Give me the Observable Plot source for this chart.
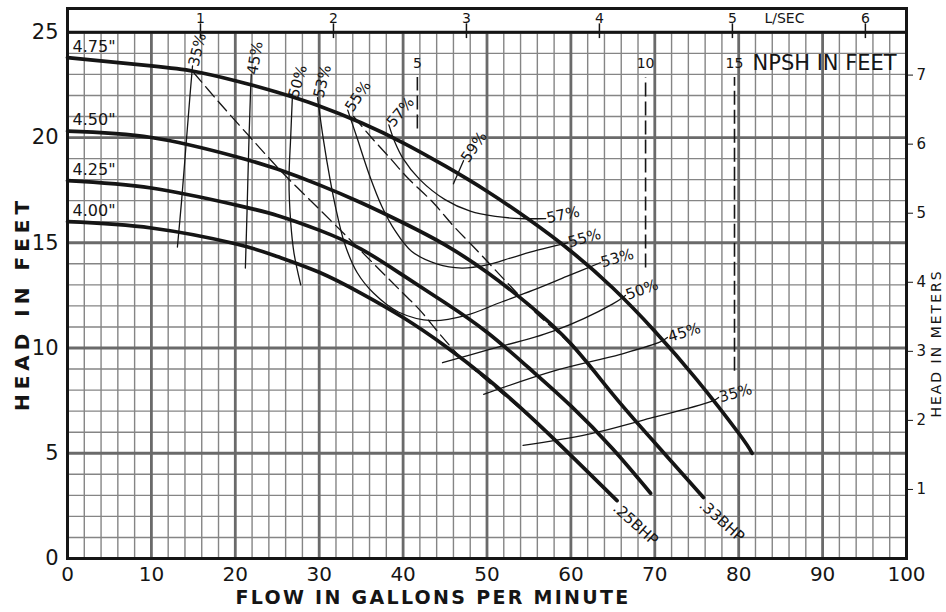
<!DOCTYPE html>
<html><head><meta charset="utf-8">
<script src="https://cdn.jsdelivr.net/npm/d3@7"></script>
<script src="https://cdn.jsdelivr.net/npm/@observablehq/plot@0.6"></script>
<style>body{margin:0;background:#fff;}</style>
</head><body><div id="chart"></div>
<script>
// ---- axis ticks ----
const flowTicks = [0,10,20,30,40,50,60,70,80,90,100];
const headTicks = [0,5,10,15,20,25];
const lsecTicks = [1,2,3,4,5,6];
const meterTicks = [1,2,3,4,5,6,7];
const GPM_PER_LSEC = 15.85;
const FT_PER_M = 3.2808;

// ---- head-capacity curves (flow gpm, head ft) ----
const diameters = ['4.75"', '4.50"', '4.25"', '4.00"'];
const imp475 = [[0,23.8],[10,23.4],[15,23.15],[20,22.7],[25,22.15],[30,21.5],[35,20.7],[40,19.75],[45,18.65],[50,17.45],[55,16.1],[60,14.6],[65,12.85],[70,10.8],[75,8.5],[80,5.95],[81.6,5.0]];
const imp450 = [[0,20.3],[10,20.0],[20,19.1],[25,18.5],[30,17.75],[35,16.9],[40,15.95],[45,14.9],[50,13.6],[55,12.05],[60,10.2],[65,7.8],[70,5.5],[75.8,2.9]];
const imp425 = [[0,17.95],[10,17.6],[20,16.8],[25,16.3],[30,15.6],[35,14.7],[40,13.45],[45,12.15],[50,10.75],[55,9.05],[60,7.25],[65,5.2],[69.5,3.1]];
const imp400 = [[0,16.0],[10,15.7],[20,14.95],[25,14.35],[30,13.6],[35,12.6],[40,11.45],[45,10.1],[50,8.55],[55,6.8],[60,4.9],[65.5,2.75]];

// ---- efficiency contours ----
const eff35L = [[13.1,14.8],[13.6,17.0],[14.1,19.5],[14.6,22.0],[14.9,23.4]];
const eff45L = [[21.2,13.8],[21.4,16.5],[21.6,19.5],[21.8,22.0],[21.9,23.0]];
const eff50L = [[27.8,13.0],[27.0,14.5],[26.6,16.0],[26.4,18.0],[26.6,20.0],[26.8,21.9]];
const eff53  = [[29.8,21.9],[30.5,19.9],[31.3,18.0],[32.0,16.6],[33.0,15.0],[34.5,13.6],[36.5,12.6],[39.5,11.7],[43.5,11.3],[47.5,11.55],[51.5,12.15],[55.5,12.75],[59.5,13.4],[63.5,14.05]];
const eff55  = [[33.4,21.3],[34.5,20.0],[36.0,18.2],[37.5,16.7],[39.0,15.6],[41.0,14.6],[44.0,14.0],[47.0,13.8],[50.0,13.95],[53.0,14.3],[56.0,14.65],[59.6,15.0]];
const eff57  = [[38.3,20.6],[39.0,19.8],[40.0,19.0],[42.0,18.0],[45.0,17.05],[48.0,16.5],[51.0,16.25],[54.0,16.15],[57.0,16.15]];
const eff59  = [[46.0,17.8],[47.2,18.9]];
const eff50R = [[44.7,9.3],[50.0,9.9],[57.9,10.8],[65.0,12.1],[66.5,12.5]];
const eff45R = [[49.6,7.8],[57.9,8.9],[65.9,9.7],[70.7,10.3],[71.5,10.5]];
const eff35R = [[54.3,5.37],[62.0,5.9],[69.8,6.7],[77.0,7.5],[77.6,7.65]];

// ---- brake horsepower lines ----
const bhp25 = [[15.0,23.1],[18,21.7],[21.8,20.0],[25.7,18.3],[30,16.6],[33.4,15.25],[36,14.2],[40,12.6],[42,11.8],[44.5,10.6],[47,9.5],[50,8.45],[55,6.75],[60,4.85],[65.5,2.75]];
const bhp33 = [[34.1,21.0],[36,20.1],[38.5,19.0],[40.5,18.1],[43.6,16.9],[46,15.8],[48.9,14.6],[51,13.7],[53.6,12.6],[56,11.6],[58,10.9],[60,10.15],[65,7.8],[70,5.5],[75.8,2.9]];

// ---- NPSH markers ----
const npshValues = [5, 10, 15];
const npshFlow = [41.7, 68.9, 79.5];
const npshHigh = 22.85;
const npshLow = [20.4, 13.8, 8.9];

// ---- build tables ----
const curveSets = [imp475, imp450, imp425, imp400];
const curveRows = curveSets.flatMap((pts, i) => pts.map(([x, y]) => ({id: diameters[i], x, y})));
const diaLabels = curveSets.map((pts, i) => ({x: pts[0][0], y: pts[0][1], t: diameters[i]}));

const effSets = [
  {id:"35L", pts:eff35L, labels:[{t:"35%", end:"last", r:-76}]},
  {id:"45L", pts:eff45L, labels:[{t:"45%", end:"last", r:-80}]},
  {id:"50L", pts:eff50L, labels:[{t:"50%", end:"last", r:-74}]},
  {id:"53",  pts:eff53,  labels:[{t:"53%", end:"first", r:-76},{t:"53%", end:"last", r:-16}]},
  {id:"55",  pts:eff55,  labels:[{t:"55%", end:"first", r:-56},{t:"55%", end:"last", r:-16}]},
  {id:"57",  pts:eff57,  labels:[{t:"57%", end:"first", r:-50},{t:"57%", end:"last", r:-12}]},
  {id:"59",  pts:eff59,  labels:[{t:"59%", end:"last", r:-55}]},
  {id:"50R", pts:eff50R, labels:[{t:"50%", end:"last", r:-20}]},
  {id:"45R", pts:eff45R, labels:[{t:"45%", end:"last", r:-17}]},
  {id:"35R", pts:eff35R, labels:[{t:"35%", end:"last", r:-15}]}
];
const effRows = effSets.flatMap(s => s.pts.map(([x, y]) => ({id: s.id, x, y})));
const effLabels = effSets.flatMap(s => s.labels.map(l => {
  const p = l.end === "first" ? s.pts[0] : s.pts[s.pts.length - 1];
  return {x: p[0], y: p[1], t: l.t, r: l.r};
}));

const bhpSets = [{t:".25BHP", pts:bhp25}, {t:".33BHP", pts:bhp33}];
const bhpRows = bhpSets.flatMap(s => s.pts.map(([x, y]) => ({id: s.t, x, y})));
const bhpLabels = bhpSets.map(s => {const p = s.pts[s.pts.length - 1]; return {x: p[0], y: p[1], t: s.t};});

const npshRows = npshValues.map((v, i) => ({v, x: npshFlow[i], y1: npshLow[i], y2: npshHigh}));

const minorX = d3.range(0, 101, 2).filter(v => v % 10 !== 0);
const minorY = d3.range(0, 26, 1).filter(v => v % 5 !== 0);

const FONT = "DejaVu Sans";
const INK = "#151515";

const svg = Plot.plot({
  width: 946,
  height: 612,
  marginLeft: 67,
  marginRight: 40,
  marginTop: 8,
  marginBottom: 54,
  x: {domain: [0, 100]},
  y: {domain: [0, 26.13]},
  style: {fontFamily: FONT, background: "#fff", color: INK},
  marks: [
    // grid
    Plot.ruleX(minorX, {y1: 0, y2: 25, stroke: "#858585", strokeWidth: 1.4}),
    Plot.ruleY(minorY, {x1: 0, x2: 100, stroke: "#858585", strokeWidth: 1.4}),
    Plot.ruleX(flowTicks, {y1: 0, y2: 25, stroke: "#6a6a6a", strokeWidth: 2.8}),
    Plot.ruleY(headTicks, {x1: 0, x2: 100, stroke: "#6a6a6a", strokeWidth: 2.8}),
    // frame & 25 ft line
    Plot.frame({stroke: INK, strokeWidth: 3}),
    Plot.ruleY([25], {stroke: INK, strokeWidth: 3}),
    // top L/SEC scale
    Plot.ruleX(lsecTicks, {x: d => d * GPM_PER_LSEC, y1: 24.7, y2: 25.4, stroke: INK, strokeWidth: 1.5}),
    Plot.text(lsecTicks, {x: d => d * GPM_PER_LSEC, y: 25, dy: -14, text: d => String(d), fontSize: 14, fill: INK}),
    Plot.text(["L/SEC"], {x: () => lsecTicks[4] * GPM_PER_LSEC, y: 25, dx: 52, dy: -14, text: d => d, fontSize: 14, fill: INK}),
    // axes
    Plot.axisY({anchor: "left", ticks: headTicks, tickSize: 0, tickPadding: 9, fontSize: 21, label: null}),
    Plot.axisX({anchor: "bottom", ticks: flowTicks, tickSize: 0, tickPadding: 8, fontSize: 20, label: null}),
    Plot.axisY({anchor: "right", ticks: meterTicks.map(m => m * FT_PER_M), tickFormat: d => String(Math.round(d / FT_PER_M)), tickSize: 6, tickPadding: 4, fontSize: 15, label: null}),
    // NPSH markers
    Plot.ruleX(npshRows, {x: "x", y1: "y1", y2: "y2", stroke: INK, strokeWidth: 1.6, strokeDasharray: "14,5"}),
    Plot.text(npshRows, {x: "x", y: "y2", dy: -14, text: d => String(d.v), fontSize: 14, fill: INK}),
    Plot.text(["NPSH IN FEET"], {x: () => npshFlow[2], y: () => npshHigh, dx: 18, dy: -14, text: d => d, textAnchor: "start", fontSize: 21, fill: INK}),
    // efficiency contours
    Plot.line(effRows, {x: "x", y: "y", z: "id", curve: "catmull-rom", stroke: INK, strokeWidth: 1.3}),
    Plot.text(effLabels, {x: "x", y: "y", text: "t", rotate: "r", textAnchor: "start", dx: 1, fontSize: 15, fill: INK}),
    // BHP dashed lines
    Plot.line(bhpRows, {x: "x", y: "y", z: "id", curve: "catmull-rom", stroke: INK, strokeWidth: 1.3, strokeDasharray: "13,6"}),
    Plot.text(bhpLabels, {x: "x", y: "y", text: "t", rotate: 42, textAnchor: "start", lineAnchor: "top", dx: 2, dy: 1, fontSize: 15, fill: INK}),
    // head curves
    Plot.line(curveRows, {x: "x", y: "y", z: "id", curve: "natural", stroke: INK, strokeWidth: 3.7}),
    Plot.text(diaLabels, {x: "x", y: "y", text: "t", textAnchor: "start", dx: 5, dy: -11, fontSize: 16, fill: INK}),
    // axis titles
    Plot.text(["FLOW IN GALLONS PER MINUTE"], {frameAnchor: "bottom", textAnchor: "middle", dx: -54, dy: 45, text: d => d, fontSize: 19, fontWeight: "bold", fill: INK}),
    Plot.text(["HEAD IN FEET"], {frameAnchor: "left", textAnchor: "middle", dx: -45, dy: 20, rotate: -90, text: d => d, fontSize: 20, fontWeight: "bold", fill: INK}),
    Plot.text(["HEAD IN METERS"], {frameAnchor: "right", textAnchor: "middle", dx: 30, dy: 60, rotate: -90, text: d => d, fontSize: 14, fill: INK})
  ]
});

const spacing = {"FLOW IN GALLONS PER MINUTE": "2.3px", "HEAD IN FEET": "5px", "HEAD IN METERS": "2px"};
d3.select(svg).selectAll("text").each(function() {
  const s = spacing[this.textContent];
  if (s) d3.select(this).style("letter-spacing", s);
});
document.getElementById("chart").appendChild(svg);
</script>
</body></html>
